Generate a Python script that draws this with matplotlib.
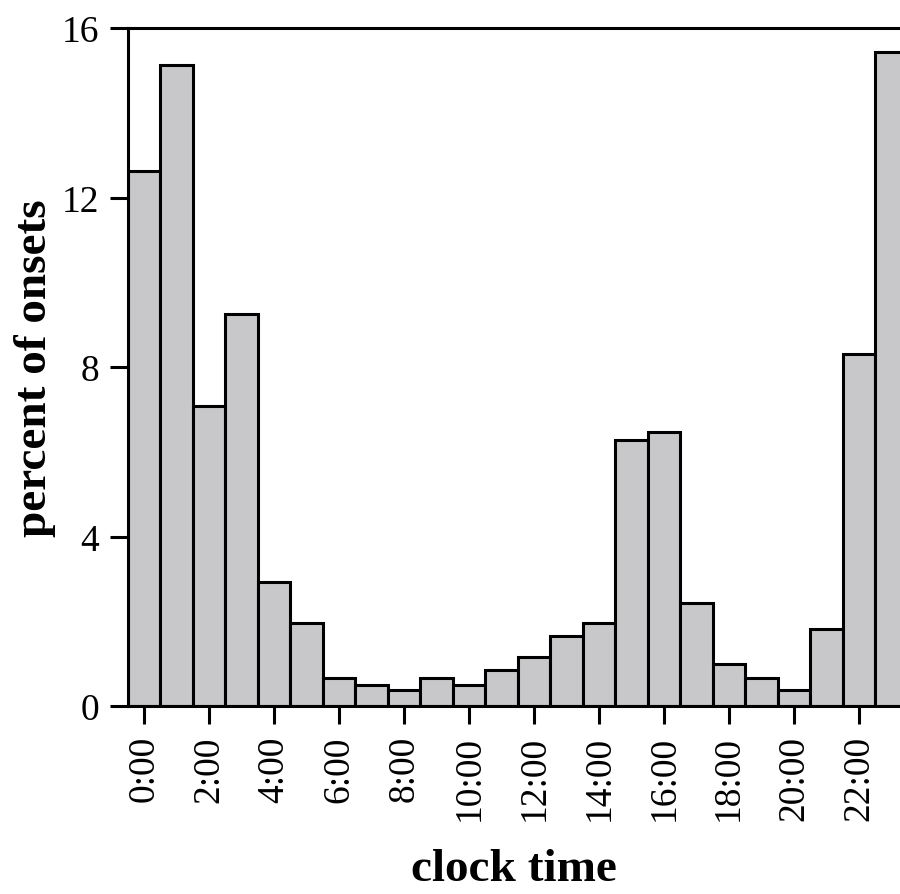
import numpy as np
import matplotlib
matplotlib.use("Agg")
import matplotlib.pyplot as plt

plt.rcParams["font.family"] = ["Liberation Serif", "DejaVu Serif"]

hours = np.arange(24)
pct = [12.63, 15.13, 7.08, 9.25, 2.93, 1.96, 0.66, 0.50, 0.38, 0.66, 0.50, 0.85,
       1.16, 1.65, 1.96, 6.28, 6.47, 2.43, 0.99, 0.66, 0.38, 1.82, 8.31, 15.43]
tick_hours = np.arange(0, 24, 2)
tick_labels = ["%d:00" % h for h in tick_hours]

fig = plt.figure(figsize=(9, 8.95), dpi=100)
ax = fig.add_axes([0.1422, 0.210, 0.858, 0.7576])

ax.bar(hours, pct, width=1.0, color="#c8c7c9", edgecolor="black", linewidth=2.2)

ax.set_xlim(-0.5, 23.27)
ax.set_ylim(0, 16)
ax.set_yticks([0, 4, 8, 12, 16])
ax.set_xticks(tick_hours)
ax.set_xticklabels(tick_labels, rotation=90)
ax.tick_params(axis="both", labelsize=27, length=13, width=2.2, direction="out", pad=8)
ax.spines["right"].set_visible(False)
for s in ["left", "top", "bottom"]:
    ax.spines[s].set_linewidth(2.2)

ax.set_xlabel("clock time", fontsize=34, fontweight="bold", labelpad=20)
ax.set_ylabel("percent of onsets", fontsize=34, fontweight="bold", labelpad=4)

fig.savefig("out.png", dpi=100)
